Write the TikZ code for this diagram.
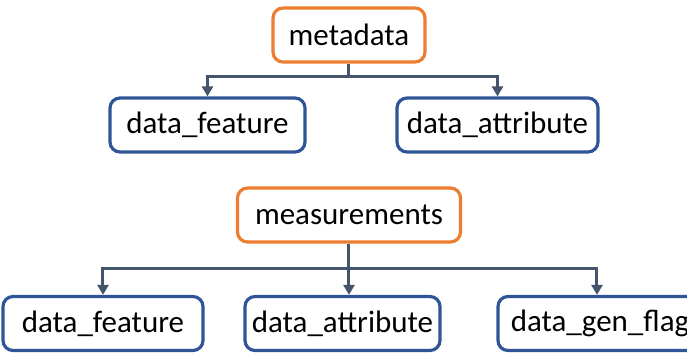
\documentclass[tikz,border=0pt]{standalone}
\usepackage{fontspec}
\setmainfont{Carlito}
\usepackage{tikz}
\usetikzlibrary{arrows.meta}
\definecolor{boxorange}{HTML}{ED7D31}
\definecolor{boxblue}{HTML}{2F5597}
\definecolor{linkgray}{HTML}{44546A}
\tikzstyle{parent} = [draw=boxorange, line width=1.6pt, rounded corners=5pt, fill=white, minimum height=27pt, inner xsep=2pt, font=\fontsize{15.5}{18}\selectfont]
\tikzstyle{child} = [draw=boxblue, line width=1.6pt, rounded corners=5pt, fill=white, minimum height=27pt, inner xsep=2pt, font=\fontsize{15.5}{18}\selectfont]
\tikzstyle{link} = [draw=linkgray, line width=1.5pt, -{Triangle[width=5.5pt,length=5pt]}]

\begin{document}
\begin{tikzpicture}[node distance=45pt]
\clip (-174.5pt,17.5pt) rectangle (169pt,-159.5pt);
\useasboundingbox (-174.5pt,17.5pt) rectangle (169pt,-159.5pt);

%nodes
\node (1) [parent, minimum width=76pt] {metadata};
\node (2) [child, below of=1, xshift=-70.75pt, minimum width=97.5pt] {data\_feature};
\node (3) [child, right of=2, xshift=100pt, minimum width=100.5pt] {data\_attribute};
\node (4) [parent, below of=1, yshift=-45pt, minimum width=111.5pt] {measurements};
\node (5) [child, below of=4, yshift=-9.25pt, xshift=-123pt, minimum width=100pt] {data\_feature};
\node (6) [child, right of=5, xshift=74.75pt, minimum width=97.5pt] {data\_attribute};
\node (7) [child, right of=6, xshift=83.75pt, minimum width=102pt] {data\_gen\_flag};

%arrows
\draw [link] (1.south) -- ++(0,-6.5pt) -| (2.north);
\draw [link] (1.south) -- ++(0,-6.5pt) -| (3.north);
\draw [link] (4.south) -- ++(0,-12.5pt) -| (5.north);
\draw [link] (4.south) -- (4.south |- 6.north);
\draw [link] (4.south) -- ++(0,-12.5pt) -| ([xshift=-1.5pt]7.north);

\end{tikzpicture}
\end{document}
